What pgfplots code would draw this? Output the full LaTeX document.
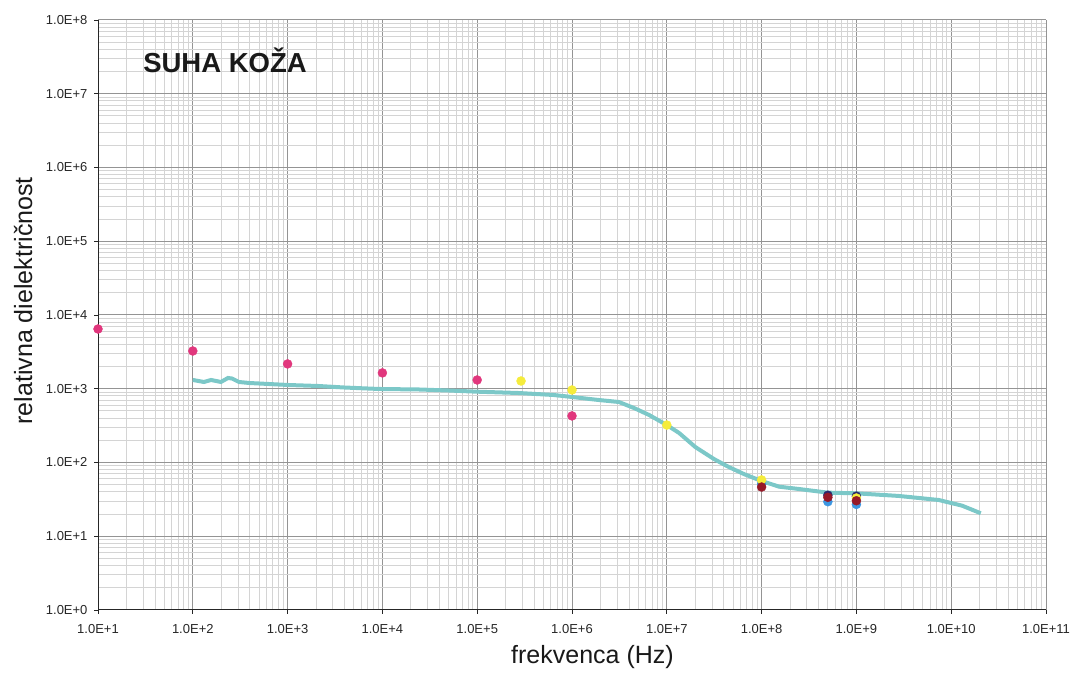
\documentclass[border=0pt]{standalone}
\usepackage{pgfplots}
\pgfplotsset{compat=1.18}
\usepackage{fontspec}
\setmainfont{Liberation Sans}
\definecolor{teal1}{RGB}{124,200,200}
\definecolor{pinkc}{RGB}{225,55,125}
\definecolor{yellowc}{RGB}{245,236,60}
\definecolor{darkredc}{RGB}{150,25,40}
\definecolor{bluec}{RGB}{60,150,225}
\definecolor{navyc}{RGB}{40,40,110}
\begin{document}
\begin{tikzpicture}
\path[use as bounding box] (-98pt,-69pt) rectangle (975pt,610pt);
\begin{axis}[
  scale only axis,
  width=948pt, height=590pt,
  at={(0pt,0pt)}, anchor=south west,
  xmode=log, ymode=log,
  xmin=1e1, xmax=1e11, ymin=1, ymax=1e8,
  xtick={1e1,1e2,1e3,1e4,1e5,1e6,1e7,1e8,1e9,1e10,1e11},
  xticklabels={1.0E+1,1.0E+2,1.0E+3,1.0E+4,1.0E+5,1.0E+6,1.0E+7,1.0E+8,1.0E+9,1.0E+10,1.0E+11},
  ytick={1,1e1,1e2,1e3,1e4,1e5,1e6,1e7,1e8},
  yticklabels={1.0E+0,1.0E+1,1.0E+2,1.0E+3,1.0E+4,1.0E+5,1.0E+6,1.0E+7,1.0E+8},
  tick label style={font=\fontsize{13}{13}\selectfont, text=black!85},
  yticklabel style={xshift=-3pt},
  xticklabel style={yshift=-7pt},
  grid=both,
  major grid style={line width=1pt, color=black!42},
  minor grid style={line width=1pt, color=black!17},
  axis x line*=bottom, axis y line*=left,
  axis line style={line width=1pt, black!85, -},
  tick align=outside,
  major tick length=4pt, minor tick length=0pt,
  tick style={line width=0.8pt, black!85},
  xlabel={frekvenca (Hz)},
  ylabel={relativna dielektri\v{c}nost},
  label style={font=\fontsize{25}{25}\selectfont, text=black!90},
  xlabel style={at={(axis description cs:0.5216,0)}, anchor=center, yshift=-47pt},
  ylabel style={at={(axis description cs:-0.079,0.524)}, anchor=center, rotate=0},
  clip=false,
]
\addplot[color=teal1, line width=4pt, mark=none] coordinates {
(100,1315) (131,1235) (156,1315) (198,1235) (235,1400) (259,1377) (307,1235)
(392,1197) (1000,1125) (2140,1089) (3930,1040) (9200,993) (24300,977)
(50400,946) (1e5,912) (276000,875) (646000,822) (1e6,773) (1.93e6,703)
(3.13e6,661) (4.51e6,548) (6.5e6,441) (1e7,322) (1.35e7,251) (2e7,162)
(3.16e7,111) (4.5e7,86.9) (6.5e7,69.8) (1e8,56.1) (1.53e8,47.0) (2.48e8,43.7)
(5e8,39.0) (1e9,38.2) (2.8e9,35.2) (7.4e9,31.0) (1.3e10,26.0) (2.05e10,20.5)
};
\addplot[only marks, mark=*, mark size=4.5pt, color=pinkc, mark options={draw=none, fill=pinkc}] coordinates {
(10,6460) (100,3250) (1000,2170) (1e4,1640) (1e5,1315) (1e6,428)
};
\addplot[only marks, mark=*, mark size=4.5pt, color=bluec, mark options={draw=none, fill=bluec}] coordinates {
(1e8,51) (5e8,29.4) (1e9,27)
};
\addplot[only marks, mark=*, mark size=4.5pt, color=navyc, mark options={draw=none, fill=navyc}] coordinates {
(5e8,36) (1e9,35)
};
\addplot[only marks, mark=*, mark size=4.5pt, color=yellowc, mark options={draw=none, fill=yellowc}] coordinates {
(2.9e5,1274) (1e6,962) (1e7,322) (1e8,58) (1e9,33)
};
\addplot[only marks, mark=*, mark size=4.5pt, color=darkredc, mark options={draw=none, fill=darkredc}] coordinates {
(1e8,46.5) (5e8,33.7) (1e9,30.3)
};
\node[font=\fontsize{27.5}{27.5}\selectfont\bfseries, anchor=center, text=black!90] at (rel axis cs:0.134,0.932) {SUHA KO\v{Z}A};
\end{axis}
\end{tikzpicture}
\end{document}
